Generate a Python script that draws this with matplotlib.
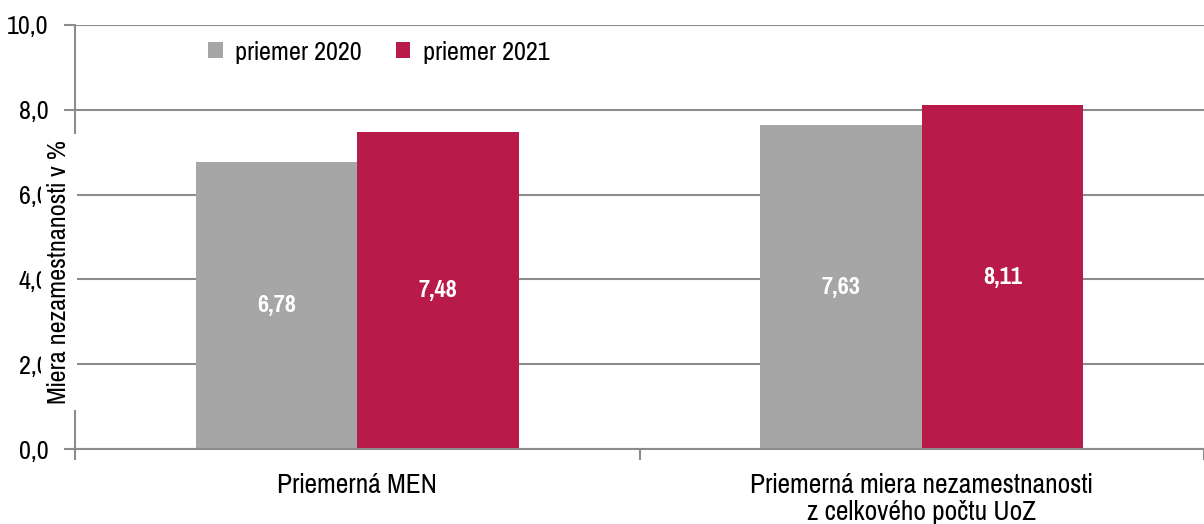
import numpy as np
import matplotlib
matplotlib.use("Agg")
import matplotlib.pyplot as plt
from matplotlib.ticker import FuncFormatter

plt.rcParams['font.family'] = ['Pragati Narrow', 'Liberation Sans', 'DejaVu Sans']

categories = ['Priemerná MEN', 'Priemerná miera nezamestnanosti\nz celkového počtu UoZ']
series_names = ['priemer 2020', 'priemer 2021']
values_2020 = [6.78, 7.63]
values_2021 = [7.48, 8.11]
labels_2020 = ['6,78', '7,63']
labels_2021 = ['7,48', '8,11']
y_label = 'Miera nezamestnanosti v %'

gray = '#A6A6A6'
red = '#B81B4A'
grid_col = '#8C8C8C'

fig = plt.figure(figsize=(12.04, 5.24), dpi=100)
ax = fig.add_axes([75/1204, 75/524, 1 - 75/1204, (449-25)/524])

x = np.arange(len(categories))
w = 0.286
b1 = ax.bar(x - w/2, values_2020, w, color=gray, label=series_names[0], zorder=2)
b2 = ax.bar(x + w/2, values_2021, w, color=red, label=series_names[1], zorder=2)

# hodnoty v strede stĺpcov
for rect, txt in zip(b1, labels_2020):
    ax.text(rect.get_x() + rect.get_width()/2, rect.get_height()/2, txt,
            ha='center', va='center', color='white', fontsize=19, fontweight='bold', zorder=3)
for rect, txt in zip(b2, labels_2021):
    ax.text(rect.get_x() + rect.get_width()/2, rect.get_height()/2, txt,
            ha='center', va='center', color='white', fontsize=19, fontweight='bold', zorder=3)

ax.set_ylim(0, 10)
ax.set_xlim(-0.5, -0.5 + (1204 - 75) / 570)
ax.set_yticks([0, 2, 4, 6, 8, 10])
ax.yaxis.set_major_formatter(FuncFormatter(lambda v, p: f'{v:.1f}'.replace('.', ',')))
ax.tick_params(axis='y', length=8, width=1.5, color=grid_col, pad=11, labelsize=20.5)
ax.yaxis.grid(True, color=grid_col, linewidth=1.5, zorder=0)
ax.set_axisbelow(True)

ax.set_xticks(x)
ax.set_xticklabels(categories, fontsize=21.5, linespacing=1.1)
ax.tick_params(axis='x', which='major', length=0, pad=17)
ax.set_xticks([-0.5, 0.5, 1.5], minor=True)
ax.tick_params(axis='x', which='minor', length=8, width=1.5, color=grid_col)

for s in ['top', 'right']:
    ax.spines[s].set_visible(False)
for s in ['left', 'bottom']:
    ax.spines[s].set_color(grid_col)
    ax.spines[s].set_linewidth(1.5)

ax.legend(loc='upper left', bbox_to_anchor=(0.098, 1.015), ncol=2, frameon=False,
          fontsize=20.5, handlelength=0.5, handleheight=0.5, handletextpad=0.45,
          columnspacing=1.2, borderaxespad=0.4)

# popis osi y s bielym pozadím (prekrýva časť osi aj popisky)
fig.text(59/1204, 1 - 272/524, y_label, rotation=90, ha='center', va='center', fontsize=20.5,
         bbox=dict(boxstyle='square,pad=0.22', facecolor='white', edgecolor='none'), zorder=10)

fig.savefig('out.png', dpi=100)
